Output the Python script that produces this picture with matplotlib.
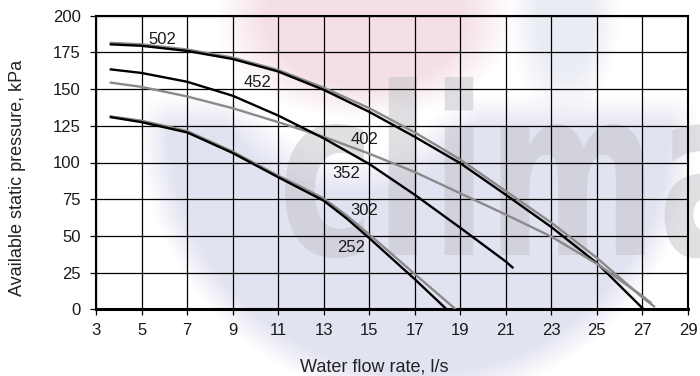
import numpy as np
import matplotlib
matplotlib.use("Agg")
import matplotlib.pyplot as plt
import matplotlib.transforms as mtransforms
from matplotlib.font_manager import FontProperties
from matplotlib.patches import PathPatch
from matplotlib.textpath import TextPath

plt.rcParams["font.family"] = ["Liberation Sans", "DejaVu Sans"]

# pump curves: water flow (l/s) vs available static pressure (kPa)
flow_502 = [3.6, 5, 7, 9, 11, 13, 15, 17, 19, 21, 23, 25, 27, 27.55]
press_502 = [181.5, 180.5, 177, 171.5, 163, 151, 137, 120.5, 102, 80.5, 59, 35, 8, 1.5]

flow_452 = [3.6, 5, 7, 9, 11, 13, 15, 17, 19, 21, 23, 25, 27.05]
press_452 = [180.5, 179.5, 176, 170.5, 162, 149.5, 134.5, 117.5, 99.5, 78, 56, 31.5, 0]

flow_402 = [3.6, 5, 7, 9, 11, 13, 15, 17, 19, 21, 23, 25, 27, 27.4]
press_402 = [154.5, 151.5, 145, 137, 127.5, 117.5, 106, 93.5, 79, 64.5, 49.5, 31, 9, 4]

flow_352 = [3.6, 5, 7, 9, 11, 13, 15, 17, 19, 21, 21.33]
press_352 = [163.5, 161, 155, 145.5, 132, 116.5, 99, 78, 55.5, 32.5, 28]

flow_302 = [3.6, 5, 7, 9, 11, 12, 13, 14, 15, 17, 18.8]
press_302 = [131.5, 128.5, 121.5, 107.5, 91, 83.5, 75.5, 64, 51, 24, 0]

flow_252 = [3.6, 5, 7, 9, 11, 12, 13, 14, 15, 17, 18.4]
press_252 = [131, 127.5, 120.5, 106.5, 90, 82, 74, 62, 48.5, 20.5, 0]

model_names = ["502", "452", "402", "352", "302", "252"]
x_ticks = list(range(3, 30, 2))
y_ticks = list(range(0, 201, 25))

curves = {
    "502": (flow_502, press_502, "#8a8a8a"),
    "452": (flow_452, press_452, "black"),
    "402": (flow_402, press_402, "#8a8a8a"),
    "352": (flow_352, press_352, "black"),
    "302": (flow_302, press_302, "#8a8a8a"),
    "252": (flow_252, press_252, "black"),
}
# where each model number is written (data coords)
label_at = {
    "502": (5.9, 184),
    "452": (10.1, 154.5),
    "402": (14.8, 115.7),
    "352": (14.0, 92.5),
    "302": (14.8, 67.6),
    "252": (14.2, 42.1),
}

W, H = 700, 376
fig = plt.figure(figsize=(W / 100, H / 100), dpi=100)

# faded logo behind the chart
ax_bg = fig.add_axes([0, 0, 1, 1], zorder=0)
ax_bg.set_xlim(0, W)
ax_bg.set_ylim(H, 0)
ax_bg.axis("off")

yy, xx = np.mgrid[0:H, 0:W] + 0.5
img = np.ones((H, W, 3))


def blend(mask, rgb):
    global img
    c = np.array(rgb) / 255.0
    img = img * (1 - mask[..., None]) + c * mask[..., None]


# blue swoosh: big disc, hollowed near the top-middle, faded out at the top
d_out = np.hypot(xx - 419, yy - 123)
d_in = np.hypot(xx - 350, yy - 50)
swoosh = (np.clip((280 - d_out) / 30, 0, 1)
          * np.clip((d_in - 105) / 40, 0, 1)
          * np.clip((yy - 95) / 35, 0, 1))
blend(swoosh, (226, 227, 241))

r_strip = np.hypot((xx - 565) / 55, (yy - 20) / 100)
blend(0.7 * np.clip((1 - r_strip) / 0.5, 0, 1), (226, 228, 240))

# red swoosh along the top
r_pink = np.hypot((xx - 365) / 150, (yy - 20) / 100)
blend(np.clip((1 - r_pink) / 0.35, 0, 1), (244, 223, 228))

ax_bg.imshow(img, extent=(0, W, H, 0), interpolation="bilinear", zorder=0)

logo = TextPath((0, 0), "clima", size=1,
                prop=FontProperties(family="DejaVu Sans", weight="bold"))
bb = logo.get_extents()
sx = 470 / bb.width
sy = (255 - 77) / bb.y1
tr = mtransforms.Affine2D().translate(-bb.x0, 0).scale(sx, -sy).translate(285, 255)
ax_bg.add_patch(PathPatch(tr.transform_path(logo), facecolor=(0.76, 0.76, 0.79),
                          edgecolor="none", alpha=0.5, zorder=1))

# chart
ax = fig.add_axes([96 / W, 1 - 309.3 / H, (688 - 96) / W, (309.3 - 15.7) / H], zorder=1)
ax.patch.set_alpha(0)

for name in model_names:
    fx, py, col = curves[name]
    ax.plot(fx, py, color=col, linewidth=1.7, solid_capstyle="butt", zorder=3)
    lx, ly = label_at[name]
    ax.text(lx, ly, name, fontsize=12, color="#1a1a1a", ha="center", va="center", zorder=4)

ax.set_xlim(3, 29)
ax.set_ylim(0, 200)
ax.set_xticks(x_ticks)
ax.set_yticks(y_ticks)
ax.grid(True, color="black", linewidth=0.9)
ax.set_axisbelow(True)
ax.tick_params(axis="both", direction="out", length=4, width=0.9, colors="black",
               labelcolor="#1a1a1a", labelsize=12)
ax.tick_params(axis="x", pad=6)
ax.tick_params(axis="y", pad=7)
for side in ["left", "right", "top"]:
    ax.spines[side].set_linewidth(1.5)
ax.spines["bottom"].set_linewidth(2.2)

fig.text(374.5 / W, 1 - 371 / H, "Water flow rate, l/s", fontsize=13,
         color="#222222", ha="center", va="baseline")
fig.text(18 / W, 1 - 177.5 / H, "Available static pressure, kPa", fontsize=13,
         color="#222222", ha="center", va="center", rotation=90)

fig.savefig("out.png", dpi=100)
